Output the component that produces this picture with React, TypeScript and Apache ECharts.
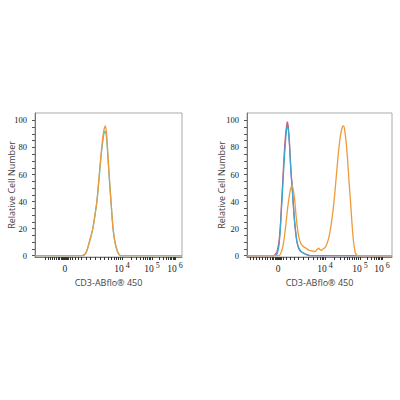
import React, { useEffect, useRef } from "react";
import * as echarts from "echarts";

// x values are display positions on the biexponential axis, 0..100 across the plot
const leftTeal: [number, number][] = [
  [0, 0], [32, 0], [34, 1], [35.4, 4], [36.7, 9], [38, 14], [39.5, 21], [40.8, 30],
  [42.2, 41], [43.5, 56], [44.5, 68], [45.4, 78], [46.3, 86], [46.9, 90], [47.7, 92],
  [48.5, 89], [49.2, 80], [50.3, 61], [51.7, 40], [53.1, 20], [54.4, 10], [55.8, 4],
  [57.1, 1], [58.5, 0], [100, 0],
];
const leftOrange: [number, number][] = [
  [0, 0], [32, 0], [34, 1], [35.4, 4], [36.7, 9], [38, 14], [39.5, 21], [40.8, 30],
  [42.2, 41], [43.5, 57], [44.5, 70], [45.4, 80], [46.3, 89], [46.9, 93], [47.8, 96],
  [48.5, 92], [49.2, 82], [50.3, 62], [51.7, 40], [53.1, 20], [54.4, 10], [55.8, 4],
  [57.1, 1], [58.5, 0], [100, 0],
];

const rightRed: [number, number][] = [
  [0, 0], [18.5, 0], [19.5, 1], [20.7, 3], [22, 10], [23, 22], [23.8, 38], [24.6, 54],
  [25.5, 72], [26.5, 88], [27.2, 95], [27.8, 99], [28.5, 95], [29.3, 83], [30.3, 63],
  [31.2, 50], [32.3, 32], [33.3, 20], [34.5, 10], [35.9, 5], [37.9, 2.5], [40.7, 1],
  [43.4, 0], [100, 0],
];
const rightBlue: [number, number][] = [
  [0, 0], [19, 0], [20, 0.5], [20.9, 2], [22.1, 8], [23, 20], [23.8, 35], [24.6, 50],
  [25.5, 68], [26.6, 85], [27.2, 93], [27.8, 96], [28.5, 93], [29.3, 82], [30.3, 62],
  [31.2, 50], [32.3, 32], [33.3, 20], [34.5, 10], [35.9, 5], [37.9, 2.5], [40.7, 1],
  [43.4, 0], [100, 0],
];
const rightOrange: [number, number][] = [
  [0, 0], [22.1, 0], [23.4, 2], [24.8, 7], [25.9, 15], [26.9, 24], [27.9, 34], [29, 43],
  [30, 49], [31, 52], [31.7, 50], [32.8, 42], [33.8, 30], [34.8, 20], [35.9, 13],
  [37.2, 9], [38.6, 7], [40.7, 5.5], [42.8, 4], [44.8, 3.5], [46.9, 3], [48.3, 4.5],
  [49.3, 5.5], [50.3, 4.5], [51.4, 3.8], [52.4, 5], [53.8, 6], [55.2, 9], [56.6, 14],
  [57.9, 22], [59.3, 33], [60.7, 48], [62.1, 65], [63.4, 80], [64.8, 91], [65.9, 95.5],
  [66.6, 96], [67.2, 94], [68.3, 85], [69.3, 72], [70.3, 56], [71.4, 40], [72.4, 24],
  [73.4, 11], [74.5, 3], [75.5, 0.5], [76.6, 0], [100, 0],
];

const xLabelTexts = ["0", "10^4", "10^5", "10^6"];
const leftLabelPos = [20.4, 59.2, 79.6, 95.2];
const rightLabelPos = [21.4, 53.8, 77.9, 93.1];

const leftTicks = [
  6.8, 8.8, 10.2, 11.6, 12.9, 14.3, 15.6, 16.7, 17.7, 18.4, 19.0, 19.7, 20.4, 21.1, 21.8,
  22.4, 23.8, 25.2, 27.2, 29.3, 31.3, 34.7, 37.4, 40.8, 44.2, 46.9, 49.7, 51.7, 53.7, 55.1,
  56.5, 57.8, 59.2, 65.3, 68.7, 71.4, 73.5, 74.8, 76.5, 77.6, 78.6, 79.6, 84.4, 87.1, 89.1,
  90.5, 91.8, 92.9, 93.9, 94.6, 95.2,
];
const rightTicks = [
  2.1, 4.1, 6.2, 8.3, 10.3, 12.4, 14.1, 15.9, 17.2, 18.3, 19.3, 20.0, 20.7, 21.4, 22.1,
  22.8, 23.8, 25.2, 27.2, 29.7, 32.4, 35.2, 38.6, 42.1, 45.5, 48.3, 50.3, 51.7, 52.8, 53.8,
  60.0, 64.1, 66.9, 69.0, 70.7, 72.4, 73.8, 75.2, 76.6, 77.9, 82.8, 85.5, 87.6, 89.0, 90.3,
  91.4, 92.4, 93.1,
];

const yLabels = [0, 20, 40, 60, 80, 100];
const yTicks = [0, 5, 10, 15, 20, 25, 30, 35, 40, 45, 50, 55, 60, 65, 70, 75, 80, 85, 90, 95, 100];

const xTitle = "CD3-ABflo® 450";
const yTitle = "Relative Cell Number";

const ORANGE = "#EE9A3A";
const TEAL = "#4EC0D6";
const BLUE = "#3AA6D2";
const RED = "#E2506A";

function makeFormatter(pos: number[]) {
  return (v: number) => {
    const i = pos.findIndex((p) => Math.abs(p - v) < 0.01);
    if (i < 0) return "";
    const t = xLabelTexts[i];
    if (t.includes("^")) {
      const [b, e] = t.split("^");
      return `{b|${b}}{s|${e}}`;
    }
    return `{b|${t}}`;
  };
}

const serif = "Liberation Serif";
const sans = "Open Sans";

function xAxisFor(gridIndex: number, pos: number[], ticks: number[]) {
  return {
    type: "value",
    gridIndex,
    min: 0,
    max: 100,
    name: xTitle,
    nameLocation: "middle",
    nameGap: 21,
    nameMoveOverlap: false,
    nameTextStyle: { fontFamily: sans, fontSize: 9, color: "#444" },
    axisLine: { show: true, onZero: false, lineStyle: { color: "#777", width: 1 } },
    axisTick: { show: true, customValues: ticks, length: 3, lineStyle: { color: "#333", width: 1 } },
    axisLabel: {
      customValues: pos,
      margin: 8,
      formatter: makeFormatter(pos),
      verticalAlign: "top",
      rich: {
        b: { fontFamily: serif, fontSize: 9.5, color: "#222", verticalAlign: "bottom", lineHeight: 9 },
        s: {
          fontFamily: serif,
          fontSize: 8,
          color: "#222",
          verticalAlign: "bottom",
          lineHeight: 8,
          padding: [0, 0, 5, 2],
        },
      },
    },
    splitLine: { show: false },
  };
}

function yAxisFor(gridIndex: number, gap: number) {
  return {
    type: "value",
    gridIndex,
    min: -1,
    max: 105.5,
    name: yTitle,
    nameLocation: "middle",
    nameGap: gap,
    nameRotate: 90,
    nameMoveOverlap: false,
    nameTextStyle: { fontFamily: sans, fontSize: 9, color: "#444" },
    axisLine: { show: true, lineStyle: { color: "#777", width: 1 } },
    axisTick: { show: true, customValues: yTicks, length: 3, lineStyle: { color: "#555" } },
    axisLabel: {
      customValues: yLabels,
      margin: 8,
      fontFamily: serif,
      fontSize: 8.5,
      color: "#222",
    },
    splitLine: { show: false },
  };
}

function line(name: string, data: [number, number][], color: string, idx: number) {
  return {
    name,
    type: "line",
    xAxisIndex: idx,
    yAxisIndex: idx,
    data,
    showSymbol: false,
    smooth: 0.3,
    lineStyle: { color, width: 1.3 },
    itemStyle: { color },
  };
}

export default function App() {
  const ref = useRef<HTMLDivElement>(null);
  useEffect(() => {
    const chart = echarts.init(ref.current!, null, { renderer: "svg" });
    chart.setOption({
      animation: false,
      backgroundColor: "#fff",
      grid: [
        { left: 35, top: 113, width: 147, height: 144, show: true, borderColor: "#aaa", borderWidth: 1 },
        { left: 247, top: 113, width: 145, height: 144, show: true, borderColor: "#aaa", borderWidth: 1 },
      ],
      xAxis: [xAxisFor(0, leftLabelPos, leftTicks), xAxisFor(1, rightLabelPos, rightTicks)],
      yAxis: [yAxisFor(0, 19.5), yAxisFor(1, 21)],
      series: [
        line("teal", leftTeal, TEAL, 0),
        line("orange", leftOrange, ORANGE, 0),
        line("red", rightRed, RED, 1),
        line("blue", rightBlue, BLUE, 1),
        line("orange2", rightOrange, ORANGE, 1),
      ],
    });
    return () => chart.dispose();
  }, []);
  return (
    <div
      ref={ref}
      style={{ position: "fixed", left: 0, top: 0, width: 400, height: 400, background: "#fff" }}
    />
  );
}
